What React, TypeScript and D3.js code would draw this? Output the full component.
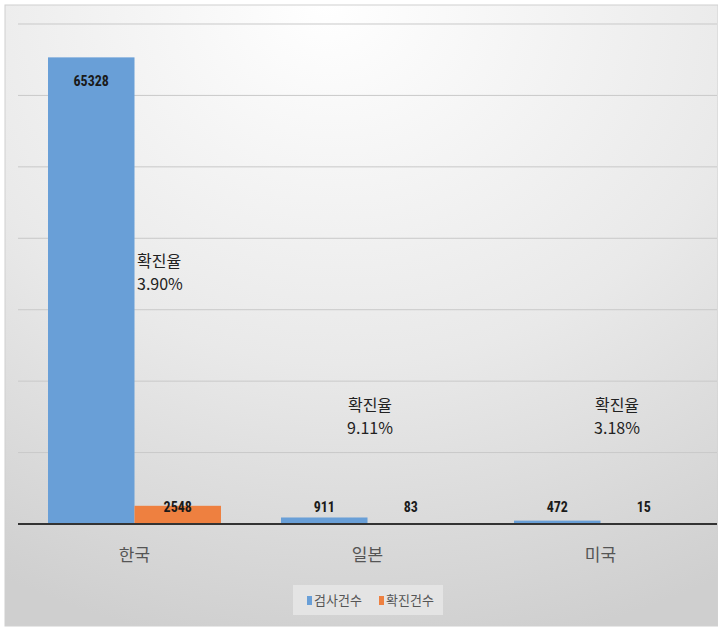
import React from "react";
import * as d3 from "d3";

const categories = ["한국", "일본", "미국"];
const seriesNames = ["검사건수", "확진건수"];
const testCounts = [65328, 911, 472];
const confirmedCounts = [2548, 83, 15];
const rateLabels = ["3.90%", "9.11%", "3.18%"];
const rateTitle = "확진율";
const yTicks = [0, 10000, 20000, 30000, 40000, 50000, 60000, 70000];

const W = 718;
const H = 627;
const colors = ["#699fd7", "#ee8040"];

export default function App() {
  const x0 = d3.scaleBand<string>().domain(categories).range([18, 717]).paddingInner(0).paddingOuter(0);
  const groupPad = 30;
  const x1 = d3
    .scaleBand<string>()
    .domain(seriesNames)
    .range([groupPad, x0.bandwidth() - groupPad])
    .padding(0);
  const y = d3.scaleLinear().domain([0, 70000]).range([524, 24]);

  const series = [testCounts, confirmedCounts];
  const font = "'Noto Sans CJK KR', 'Noto Sans', sans-serif";
  const numFont = "'Liberation Sans Narrow', 'Roboto Condensed', 'Roboto', sans-serif";

  // annotation positions relative to category: [dx center, y of title]
  const annY = (i: number) => {
    const top = y(testCounts[i]);
    return i === 0 ? top + 210 : 411;
  };
  const annX = [163, 370, 617];

  return (
    <div style={{ position: "absolute", left: 0, top: 0 }}>
      <svg width={W} height={H} style={{ display: "block" }}>
        <defs>
          <radialGradient id="bg" cx="0.5" cy="0" r="1.05" fx="0.45" fy="0">
            <stop offset="0" stopColor="#ffffff" />
            <stop offset="0.55" stopColor="#e9e9e9" />
            <stop offset="1" stopColor="#cfcfcf" />
          </radialGradient>
        </defs>
        <rect x={0} y={0} width={W} height={H} fill="#ffffff" />
        <rect x={5} y={5} width={713} height={621} fill="url(#bg)" stroke="#d0d0d0" strokeWidth={1} />
        {yTicks.slice(1).map((t) => (
          <line key={t} x1={18} x2={717} y1={y(t)} y2={y(t)} stroke="#c9c9c9" strokeWidth={1} />
        ))}
        {categories.map((c, i) => (
          <g key={c} transform={`translate(${x0(c)},0)`}>
            {seriesNames.map((s, j) => {
              const v = series[j][i];
              const bx = x1(s)!;
              const bw = x1.bandwidth();
              const top = y(v);
              const h = y(0) - top;
              const inside = h > 40;
              const ly = inside ? top + 29 : 512;
              return (
                <g key={s}>
                  <rect x={bx} y={top} width={bw} height={h} fill={colors[j]} />
                  <text
                    x={bx + bw / 2}
                    y={ly}
                    textAnchor="middle"
                    fontFamily={numFont}
                    fontWeight="bold"
                    fontSize={14}
                    fill="#1a1a1a"
                  >
                    {v}
                  </text>
                </g>
              );
            })}
          </g>
        ))}
        <line x1={18} x2={717} y1={y(0)} y2={y(0)} stroke="#333" strokeWidth={2} />
        {categories.map((c, i) => (
          <text
            key={c}
            x={x0(c)! + x0.bandwidth() / 2}
            y={561}
            textAnchor="middle"
            fontFamily={font}
            fontSize={17}
            fill="#555"
          >
            {c}
          </text>
        ))}
        {categories.map((c, i) => (
          <g key={c + "a"}>
            <text
              x={i === 0 ? 137 : annX[i]}
              y={annY(i)}
              textAnchor={i === 0 ? "start" : "middle"}
              fontFamily={font}
              fontSize={16}
              fill="#222"
            >
              {rateTitle}
            </text>
            <text
              x={i === 0 ? 137 : annX[i]}
              y={annY(i) + 23}
              textAnchor={i === 0 ? "start" : "middle"}
              fontFamily={font}
              fontSize={16}
              fill="#222"
            >
              {rateLabels[i]}
            </text>
          </g>
        ))}
        <rect x={293} y={585} width={150} height={30} fill="#e4e4e4" />
        {seriesNames.map((s, j) => (
          <g key={s} transform={`translate(${307 + j * 72},0)`}>
            <rect x={0} y={596} width={5} height={9} fill={colors[j]} />
            <text x={7} y={605} fontFamily={font} fontSize={13} fill="#555">
              {s}
            </text>
          </g>
        ))}
      </svg>
    </div>
  );
}
